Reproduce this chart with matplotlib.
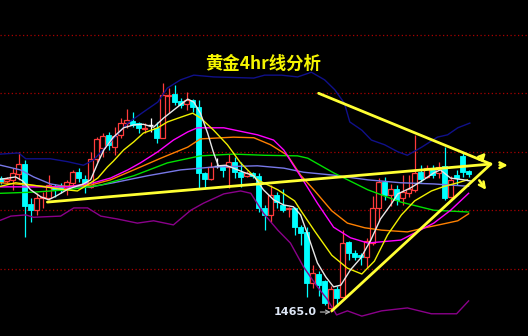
import matplotlib
matplotlib.use("Agg")
import matplotlib.pyplot as plt
from matplotlib.patches import Rectangle

plt.rcParams['font.family'] = ['Noto Sans CJK SC', 'DejaVu Sans']

# ── 4hr candles ──────────────────────────────────────────────────────────────
opens = [1487.9, 1487.4, 1487.6, 1488.6, 1490.3, 1483.5, 1482.4, 1484.5, 1484.5, 1486.5,
         1486.4, 1486.2, 1487.1, 1488.9, 1487.7, 1486.4, 1491.2, 1493.0, 1495.3, 1493.2,
         1495.3, 1497.3, 1497.7, 1497.3, 1496.3, 1497.0, 1496.5, 1494.8, 1501.9, 1502.3,
         1501.1, 1500.6, 1501.3, 1500.1, 1488.8, 1487.7, 1490.0, 1490.0, 1489.8, 1490.7,
         1488.9, 1488.3, 1488.8, 1488.3, 1482.8, 1481.6, 1485.0, 1483.3, 1482.6, 1482.8,
         1479.5, 1478.7, 1470.0, 1471.5, 1470.3, 1465.7, 1468.9, 1467.6, 1477.0, 1475.1,
         1474.7, 1474.4, 1476.8, 1482.8, 1487.2, 1485.0, 1486.0, 1484.5, 1485.3, 1485.9,
         1488.9, 1488.1, 1489.5, 1488.8, 1490.0, 1484.7, 1488.4, 1491.7, 1489.1]
highs = [1488.3, 1488.1, 1489.6, 1492.4, 1491.0, 1484.5, 1485.3, 1485.5, 1488.4, 1486.9,
         1487.1, 1487.6, 1489.3, 1489.6, 1488.4, 1492.4, 1494.9, 1495.6, 1495.8, 1496.6,
         1498.2, 1499.7, 1499.2, 1497.5, 1497.3, 1498.2, 1497.5, 1504.2, 1503.3, 1503.8,
         1501.6, 1502.6, 1501.5, 1501.3, 1488.9, 1490.7, 1491.3, 1490.1, 1492.0, 1491.5,
         1490.7, 1489.1, 1488.9, 1488.8, 1483.3, 1486.7, 1485.5, 1486.0, 1483.0, 1483.0,
         1479.9, 1479.5, 1473.0, 1472.0, 1470.5, 1469.4, 1469.4, 1479.0, 1477.1, 1475.6,
         1475.1, 1477.7, 1484.8, 1487.9, 1488.1, 1486.9, 1486.7, 1488.4, 1488.4, 1495.3,
         1490.1, 1490.1, 1490.1, 1490.7, 1493.2, 1488.3, 1489.3, 1492.2, 1489.3]
lows = [1486.9, 1487.1, 1485.9, 1487.6, 1477.8, 1480.4, 1481.6, 1482.8, 1484.2, 1484.7,
        1485.3, 1485.0, 1486.4, 1487.2, 1485.3, 1486.2, 1490.7, 1491.5, 1492.7, 1491.8,
        1494.8, 1496.5, 1496.6, 1495.6, 1495.6, 1495.8, 1493.9, 1494.8, 1499.0, 1500.4,
        1499.9, 1499.5, 1499.2, 1486.2, 1486.2, 1487.6, 1489.6, 1488.1, 1486.2, 1487.9,
        1486.4, 1488.1, 1487.9, 1482.1, 1479.0, 1480.4, 1482.8, 1482.1, 1481.2, 1478.2,
        1476.5, 1467.6, 1469.1, 1467.7, 1466.2, 1465.0, 1466.2, 1467.4, 1473.9, 1473.9,
        1473.0, 1472.5, 1476.5, 1480.6, 1484.2, 1483.1, 1483.3, 1483.3, 1484.7, 1485.5,
        1487.2, 1487.9, 1487.9, 1487.9, 1484.2, 1484.5, 1486.7, 1488.1, 1488.1]
closes = [1487.2, 1487.7, 1488.8, 1490.3, 1483.1, 1482.4, 1484.5, 1484.7, 1486.7, 1485.9,
          1485.9, 1487.2, 1488.9, 1487.9, 1487.1, 1491.2, 1494.6, 1495.1, 1493.6, 1495.1,
          1497.3, 1497.8, 1497.0, 1496.5, 1496.5, 1497.0, 1494.8, 1502.1, 1502.1, 1500.9,
          1500.4, 1501.3, 1500.1, 1488.8, 1487.7, 1489.8, 1490.0, 1489.3, 1490.7, 1488.9,
          1488.1, 1488.8, 1488.3, 1482.8, 1481.6, 1485.0, 1483.8, 1482.4, 1482.8, 1479.5,
          1478.5, 1470.0, 1471.7, 1469.6, 1466.5, 1468.9, 1467.4, 1476.8, 1475.1, 1474.4,
          1474.4, 1477.1, 1482.8, 1487.2, 1485.0, 1486.0, 1484.2, 1485.5, 1486.0, 1488.8,
          1487.7, 1489.6, 1488.4, 1489.8, 1484.5, 1487.6, 1487.9, 1488.9, 1488.6]

# ── indicator lines, sampled as (bar position, price) ────────────────────────
ma5_x = [0.0, 2.5, 3.7, 5.0, 6.7, 8.0, 9.2, 11.2, 13.8, 15.0, 16.2, 17.2, 18.8, 20.5, 22.2,
         23.8, 25.5, 27.2, 28.8, 30.3, 31.2, 32.2, 33.3, 34.5, 35.5, 36.3, 37.5, 38.8, 40.5,
         42.2, 43.8, 45.5, 47.2, 48.8, 50.0, 51.2, 52.8, 54.2, 55.5, 56.7, 58.3, 60.0, 61.7,
         63.3, 65.0, 66.2, 68.3, 70.5, 72.2, 73.3, 75.0, 77.2, 78.3]
ma5_y = [1487.7, 1488.1, 1487.4, 1485.9, 1484.7, 1484.2, 1484.8, 1486.0, 1486.9, 1487.6,
         1490.5, 1492.7, 1494.9, 1496.5, 1497.0, 1497.1, 1496.6, 1498.2, 1499.5, 1500.7,
         1501.4, 1500.9, 1499.0, 1495.6, 1492.2, 1490.0, 1490.1, 1489.6, 1488.9, 1488.3,
         1485.9, 1484.2, 1483.3, 1483.0, 1481.6, 1478.2, 1473.4, 1471.0, 1469.3, 1469.6,
         1472.2, 1474.2, 1477.3, 1480.9, 1483.3, 1485.2, 1486.2, 1487.6, 1488.8, 1489.3,
         1487.9, 1487.6, 1487.4]

ma10_x = [0.0, 2.5, 6.7, 10.0, 12.8, 15.0, 16.2, 17.8, 18.8, 20.5, 22.2, 23.8, 26.2, 27.8,
          30.0, 32.0, 33.3, 35.5, 37.8, 40.0, 42.8, 46.2, 49.0, 50.0, 52.3, 55.2, 57.8, 60.2,
          62.3, 64.5, 66.8, 69.0, 71.8, 74.0, 76.2, 77.8]
ma10_y = [1486.5, 1487.1, 1486.5, 1486.0, 1485.7, 1487.1, 1487.9, 1489.8, 1490.8, 1492.7,
          1494.1, 1495.6, 1496.5, 1497.5, 1498.3, 1499.0, 1498.2, 1496.1, 1493.6, 1490.5,
          1487.6, 1485.9, 1484.0, 1482.4, 1478.9, 1474.7, 1472.5, 1471.5, 1473.7, 1478.2,
          1481.6, 1484.0, 1485.7, 1486.5, 1487.1, 1487.6]

ma20_x = [0.0, 5.5, 11.2, 15.5, 18.3, 21.2, 23.3, 26.2, 28.8, 31.2, 32.8, 37.2, 42.8, 45.5,
          47.2, 48.8, 50.5, 52.8, 55.5, 58.3, 61.2, 66.7, 72.2, 75.0, 78.0]
ma20_y = [1486.4, 1486.4, 1486.4, 1487.1, 1487.9, 1489.3, 1490.5, 1492.4, 1494.4, 1495.8,
          1496.5, 1496.5, 1495.3, 1494.4, 1492.7, 1490.1, 1487.4, 1483.6, 1479.5, 1477.7,
          1476.8, 1477.3, 1480.2, 1482.4, 1485.3]

ma30_x = [0.0, 8.3, 15.0, 18.3, 22.2, 26.7, 31.2, 33.3, 38.8, 42.2, 45.0, 47.8, 50.0, 52.2,
          55.2, 57.8, 60.7, 63.5, 67.8, 70.7, 73.5, 76.2, 78.0]
ma30_y = [1487.1, 1486.4, 1486.7, 1487.6, 1489.3, 1491.3, 1493.2, 1494.6, 1494.9, 1494.8,
          1493.6, 1491.8, 1488.4, 1485.9, 1482.3, 1480.2, 1479.4, 1479.0, 1478.7, 1479.4,
          1480.0, 1480.6, 1481.8]

ma60_x = [0.0, 5.5, 11.2, 16.7, 22.2, 27.8, 33.3, 38.8, 44.0, 49.5, 51.2, 55.5, 61.2, 66.7,
          72.2, 78.0]
ma60_y = [1485.3, 1485.5, 1485.9, 1486.7, 1488.3, 1490.5, 1491.7, 1492.0, 1491.8, 1491.7,
          1491.3, 1488.8, 1485.9, 1483.8, 1482.4, 1482.1]

ma120_x = [0.0, 3.3, 5.5, 8.3, 11.2, 15.0, 18.8, 24.5, 30.0, 35.5, 42.8, 47.2, 50.5, 55.5,
           61.2, 66.7, 72.2, 78.0]
ma120_y = [1490.1, 1489.3, 1488.1, 1486.9, 1486.4, 1486.4, 1487.1, 1488.3, 1489.3, 1489.8,
           1490.0, 1489.6, 1488.9, 1488.4, 1487.6, 1487.1, 1486.9, 1486.5]

upper_x = [0.0, 3.0, 4.2, 8.3, 11.2, 13.8, 15.5, 18.3, 21.2, 23.8, 26.2, 27.8, 30.0, 32.2,
           35.5, 42.2, 44.0, 46.8, 49.5, 51.8, 54.0, 55.7, 57.3, 58.2, 60.2, 61.8, 64.0,
           66.2, 67.8, 70.2, 72.8, 74.5, 76.2, 78.2]
upper_y = [1492.0, 1492.2, 1491.2, 1491.2, 1490.7, 1490.1, 1491.0, 1494.1, 1497.3, 1499.2,
           1500.9, 1503.3, 1504.7, 1505.5, 1505.2, 1505.0, 1505.5, 1505.5, 1505.2, 1506.0,
           1504.7, 1503.0, 1500.7, 1497.5, 1496.1, 1494.4, 1493.6, 1492.4, 1491.8, 1493.2,
           1494.9, 1495.3, 1496.5, 1497.3]

lower_x = [0.0, 1.7, 4.2, 5.5, 10.0, 12.2, 14.5, 16.7, 19.5, 22.8, 25.5, 28.8, 31.7, 33.8,
           37.2, 40.0, 41.7, 43.8, 46.2, 48.3, 50.5, 52.8, 54.5, 56.0, 57.8, 60.2, 63.5,
           67.8, 71.8, 76.0, 78.0]
lower_y = [1480.7, 1481.4, 1481.6, 1481.2, 1481.4, 1482.8, 1482.8, 1481.4, 1480.9, 1480.2,
           1480.6, 1479.9, 1482.4, 1483.6, 1485.2, 1485.7, 1485.3, 1481.9, 1479.0, 1476.8,
           1472.7, 1469.3, 1467.1, 1464.5, 1465.2, 1464.3, 1465.2, 1465.7, 1464.7, 1464.7,
           1466.9]

# ── hand-drawn triangle and arrows ───────────────────────────────────────────
apex = (81.7, 1490.3)
trend_starts = [(7.8, 1483.8), (53.0, 1502.4), (55.2, 1465.2)]
arrow_tails = [(79.5, 1490.7), (82.7, 1490.1), (79.5, 1487.9)]
arrow_heads = [(81.2, 1492.6), (85.0, 1490.1), (81.2, 1485.5)]
grid_levels = [1472.4, 1482.4, 1492.4, 1502.4, 1512.4]
low_label = "1465.0"
low_point = (55.0, 1465.0)
title = "黄金4hr线分析"

UP, DOWN = "#ff3b3b", "#00ffff"
TREND = "#ffff33"

fig = plt.figure(figsize=(5.28, 3.36), dpi=100, facecolor="black")
ax = fig.add_axes([0, 0, 1, 1])
ax.set_facecolor("black")
ax.set_xlim(-0.1, 87.9)
ax.set_ylim(1460.9, 1518.35)
for s in ax.spines.values():
    s.set_visible(False)
ax.set_xticks([]); ax.set_yticks([])

for lv in grid_levels:
    ax.axhline(lv, color="#a80000", lw=0.9, ls=(0, (1, 2)), zorder=1)

# ── candles ──────────────────────────────────────────────────────────────────
w = 0.72
for i, (o, h, l, c) in enumerate(zip(opens, highs, lows, closes)):
    if c > o:
        col = UP
    elif c < o:
        col = DOWN
    else:
        col = "white"
    ax.vlines(i, l, h, color=col, lw=0.9, zorder=2)
    lo, hi = min(o, c), max(o, c)
    if c == o:
        ax.hlines(o, i - w / 2, i + w / 2, color=col, lw=1.0, zorder=3)
    elif c > o:
        ax.add_patch(Rectangle((i - w / 2, lo), w, hi - lo, facecolor="black",
                               edgecolor=col, lw=0.9, zorder=3))
    else:
        ax.add_patch(Rectangle((i - w / 2, lo), w, hi - lo, facecolor=col,
                               edgecolor=col, lw=0.6, zorder=3))

# ── moving averages / bands ──────────────────────────────────────────────────
lines = [
    (upper_x, upper_y, "#10108a"),
    (lower_x, lower_y, "#8a008a"),
    (ma120_x, ma120_y, "#7878e8"),
    (ma60_x, ma60_y, "#00e000"),
    (ma30_x, ma30_y, "#ff8000"),
    (ma20_x, ma20_y, "#ff00ff"),
    (ma10_x, ma10_y, "#f0f000"),
    (ma5_x, ma5_y, "#e8e8e8"),
]
for xs, ys, col in lines:
    ax.plot(xs, ys, color=col, lw=1.0, zorder=4)

for st in trend_starts:
    ax.plot([st[0], apex[0]], [st[1], apex[1]], color=TREND, lw=2.0,
            solid_capstyle="round", zorder=6)
for t, hd in zip(arrow_tails, arrow_heads):
    ax.annotate("", xy=hd, xytext=t, zorder=6,
                arrowprops=dict(arrowstyle="->", color=TREND, lw=1.8,
                                mutation_scale=10))

ax.text(43.8, 1507.4, title, color="#f5f500", fontsize=12.5, fontweight="bold",
        ha="center", va="center", zorder=7)
ax.annotate(low_label, xy=low_point, xytext=(52.6, low_point[1]),
            color="#dde6f5", fontsize=8, fontweight="bold", ha="right", va="center",
            family=["DejaVu Sans"], zorder=7,
            arrowprops=dict(arrowstyle="->", color="#c0c0c0", lw=0.8,
                            shrinkA=1, shrinkB=0, mutation_scale=7))

fig.savefig("out.png", dpi=100, facecolor="black")
